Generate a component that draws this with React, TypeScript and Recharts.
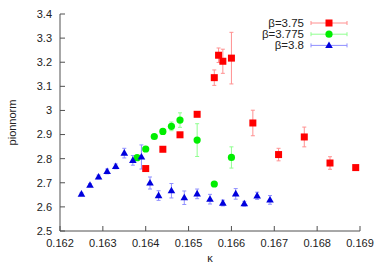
import type { JSX } from "react";
import { ErrorBar, Legend, Scatter, ScatterChart, XAxis, YAxis } from "recharts";

const kappa375 = [0.164, 0.1644, 0.1648, 0.1652, 0.1656, 0.1657, 0.1658, 0.166, 0.1665, 0.1671, 0.1677, 0.1683, 0.1689];
const pion375 = [2.759, 2.839, 2.899, 2.984, 3.136, 3.229, 3.204, 3.217, 2.948, 2.817, 2.89, 2.782, 2.763];
const err375 = [0.005, 0.005, 0.005, 0.005, 0.032, 0.03, 0.05, 0.107, 0.053, 0.026, 0.041, 0.026, 0.008];

const kappa3775 = [0.1638, 0.164, 0.1642, 0.1644, 0.1646, 0.1648, 0.1652, 0.1656, 0.166];
const pion3775 = [2.804, 2.84, 2.892, 2.913, 2.934, 2.96, 2.877, 2.695, 2.805];
const err3775 = [0.005, 0.005, 0.006, 0.01, 0.018, 0.03, 0.068, 0.005, 0.044];

const kappa38 = [
  0.1625, 0.1627, 0.1629, 0.1631, 0.1633, 0.1635, 0.1637, 0.1639, 0.1641, 0.1643, 0.1646, 0.1649, 0.1652, 0.1655,
  0.1658, 0.1661, 0.1663, 0.1666, 0.1669,
];
const pion38 = [
  2.653, 2.69, 2.724, 2.747, 2.768, 2.823, 2.793, 2.807, 2.699, 2.647, 2.667, 2.638, 2.654, 2.632, 2.616, 2.654, 2.613,
  2.646, 2.629,
];
const err38 = [
  0.005, 0.006, 0.008, 0.01, 0.01, 0.02, 0.02, 0.05, 0.025, 0.02, 0.03, 0.028, 0.02, 0.02, 0.012, 0.022, 0.01, 0.015,
  0.018,
];

const xTicks = [0.162, 0.163, 0.164, 0.165, 0.166, 0.167, 0.168, 0.169];
const yTicks = [2.5, 2.6, 2.7, 2.8, 2.9, 3.0, 3.1, 3.2, 3.3, 3.4];
const seriesNames = ["β=3.75", "β=3.775", "β=3.8"];

interface Row {
  readonly kappa: number;
  readonly pion: number;
  readonly err: number;
}

function toRows(k: number[], p: number[], e: number[]): Row[] {
  return k.map((kappa, i) => ({ kappa, pion: p[i], err: e[i] }));
}

const FONT = "'Liberation Sans', Arial, sans-serif";
const FRAME = "#505050";
const RED = "#ff0000";
const GREEN = "#00ee00";
const BLUE = "#0000dd";

function square(cx: number, cy: number, color: string): JSX.Element {
  return <rect x={cx - 3.5} y={cy - 3.5} width={7} height={7} fill={color} />;
}
function circle(cx: number, cy: number, color: string): JSX.Element {
  return <circle cx={cx} cy={cy} r={3.6} fill={color} />;
}
function triangle(cx: number, cy: number, color: string): JSX.Element {
  return <polygon points={`${cx},${cy - 4} ${cx - 3.8},${cy + 2.6} ${cx + 3.8},${cy + 2.6}`} fill={color} />;
}

const markers = [
  { draw: square, color: RED, bar: "#ff9090" },
  { draw: circle, color: GREEN, bar: "#90ff90" },
  { draw: triangle, color: BLUE, bar: "#9090ff" },
];

function LegendBox(): JSX.Element {
  return (
    <svg width={160} height={40} style={{ display: "block", overflow: "visible" }}>
      {seriesNames.map((name, i) => {
        const y = 7 + i * 11.2;
        const m = markers[i];
        return (
          <g key={name}>
            <text x={104} y={y + 4} textAnchor="end" fontSize={11.5} fontFamily={FONT} fill="#222">
              {name}
            </text>
            <line x1={111} x2={147} y1={y} y2={y} stroke={m.bar} />
            <line x1={111} x2={111} y1={y - 2} y2={y + 2} stroke={m.bar} />
            <line x1={147} x2={147} y1={y - 2} y2={y + 2} stroke={m.bar} />
            {m.draw(129, y, m.color)}
          </g>
        );
      })}
    </svg>
  );
}

function fmtY(v: number): string {
  return String(Number(v.toFixed(1)));
}

const tickStyle = { fontSize: 11, fill: "#222", fontFamily: FONT };

export default function App(): JSX.Element {
  const data = [toRows(kappa375, pion375, err375), toRows(kappa3775, pion3775, err3775), toRows(kappa38, pion38, err38)];
  return (
    <div style={{ position: "fixed", left: 0, top: 0, background: "#fff" }}>
      <ScatterChart width={380} height={266} margin={{ top: 14, right: 20, bottom: 0, left: 0 }}>
        <XAxis
          type="number"
          dataKey="kappa"
          domain={[0.162, 0.169]}
          ticks={xTicks}
          tickFormatter={(v: number) => v.toFixed(3)}
          tick={tickStyle}
          tickSize={-5}
          tickMargin={13}
          height={35}
          stroke={FRAME}
          allowDataOverflow
          label={{
            content: (p: any) => (
              <text
                x={p.viewBox.x + p.viewBox.width / 2}
                y={p.viewBox.y + 31}
                textAnchor="middle"
                fontSize={11}
                fontFamily={FONT}
                fill="#222"
              >
                κ
              </text>
            ),
          }}
        />
        <XAxis
          xAxisId="top"
          orientation="top"
          type="number"
          dataKey="kappa"
          domain={[0.162, 0.169]}
          ticks={xTicks}
          tick={false}
          tickSize={-5}
          height={0}
          stroke={FRAME}
          allowDataOverflow
        />
        <YAxis
          type="number"
          dataKey="pion"
          domain={[2.5, 3.4]}
          ticks={yTicks}
          tickFormatter={fmtY}
          tick={tickStyle}
          tickSize={-5}
          tickMargin={13}
          width={60}
          stroke={FRAME}
          allowDataOverflow
          label={{
            content: (p: any) => {
              const cx = 12;
              const cy = p.viewBox.y + p.viewBox.height / 2;
              return (
                <text
                  x={cx}
                  y={cy}
                  transform={`rotate(-90, ${cx}, ${cy})`}
                  textAnchor="middle"
                  dominantBaseline="central"
                  fontSize={11}
                  fontFamily={FONT}
                  fill="#222"
                >
                  pionnorm
                </text>
              );
            },
          }}
        />
        <YAxis
          yAxisId="right"
          orientation="right"
          type="number"
          dataKey="pion"
          domain={[2.5, 3.4]}
          ticks={yTicks}
          tick={false}
          tickSize={-5}
          width={0}
          stroke={FRAME}
          allowDataOverflow
        />
        <Legend
          layout="vertical"
          align="center"
          verticalAlign="middle"
          content={() => <LegendBox />}
          wrapperStyle={{ top: 16, left: 200, width: 160 }}
        />
        {data.map((rows, i) => (
          <Scatter
            key={seriesNames[i]}
            name={seriesNames[i]}
            data={rows}
            isAnimationActive={false}
            shape={(p: any) => markers[i].draw(p.cx, p.cy, markers[i].color)}
          >
            <ErrorBar dataKey="err" direction="y" width={2} stroke={markers[i].bar} strokeWidth={1} />
          </Scatter>
        ))}
      </ScatterChart>
    </div>
  );
}
